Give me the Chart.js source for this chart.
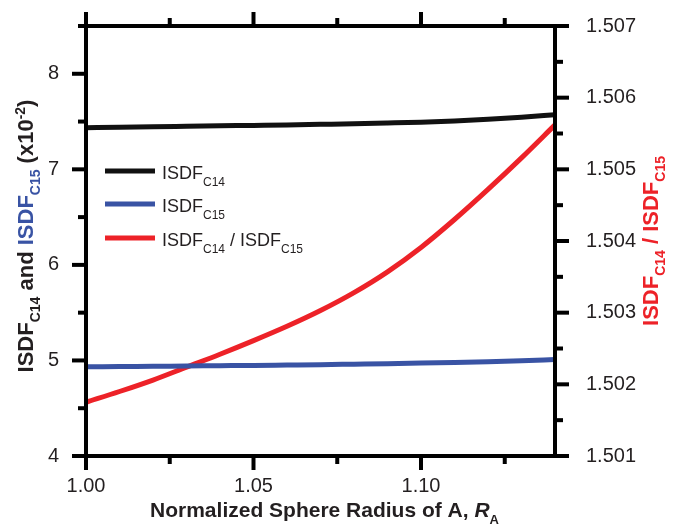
<!DOCTYPE html>
<html>
<head>
<meta charset="utf-8">
<script src="https://cdn.jsdelivr.net/npm/chart.js@4.4.1/dist/chart.umd.min.js"></script>
<style>
  html, body { margin: 0; padding: 0; background: #fff; }
  #wrap { width: 682px; height: 526px; }
</style>
</head>
<body>
<div id="wrap"><canvas id="chart" width="682" height="526"></canvas></div>
<script>
// Data
const radius = [1.00, 1.01, 1.02, 1.03, 1.04, 1.05, 1.06, 1.07, 1.08, 1.09, 1.10, 1.11, 1.12, 1.13, 1.14];
const isdfC14 = [7.436, 7.441, 7.445, 7.450, 7.455, 7.460, 7.465, 7.471, 7.477, 7.485, 7.494, 7.507, 7.524, 7.546, 7.572];
const isdfC15 = [4.933, 4.936, 4.939, 4.942, 4.945, 4.948, 4.952, 4.956, 4.961, 4.966, 4.972, 4.979, 4.987, 4.997, 5.010];
const ratio = [1.50175, 1.50190, 1.50206, 1.50224, 1.50242, 1.50261, 1.50281, 1.50303, 1.50328, 1.50357, 1.50391, 1.50430, 1.50472, 1.50516, 1.50562];

// Ticks
const xMajor = [1.00, 1.05, 1.10];
const xMinor = [1.025, 1.075, 1.125];
const yMajor = [4, 5, 6, 7, 8];
const yMinor = [4.5, 5.5, 6.5, 7.5, 8.5];
const y2Major = [1.501, 1.502, 1.503, 1.504, 1.505, 1.506, 1.507];
const y2Minor = [1.5015, 1.5025, 1.5035, 1.5045, 1.5055, 1.5065];

const BLACK = "#111111";
const BLUE = "#3953a4";
const RED = "#ed2228";
const TXT = "#231f20";
const FONT = "'Liberation Sans', Arial, Helvetica, sans-serif";

const pts = (arr) => radius.map((x, i) => ({ x, y: arr[i] }));

function setTicks(major, minor) {
  return (scale) => {
    scale.ticks = major.concat(minor).sort((a, b) => a - b).map(v => ({ value: v, major: major.includes(v) }));
  };
}

// fixed box sizes, no extra label padding
function fitBox(w, h) {
  return (s) => {
    if (w != null) s.width = w;
    if (h != null) s.height = h;
    s.paddingTop = 0; s.paddingBottom = 0; s.paddingLeft = 0; s.paddingRight = 0;
  };
}

// Draws a run of text pieces (for subscripts / mixed colours)
function drawRich(ctx, parts, x, y, align) {
  let total = 0;
  parts.forEach(p => { ctx.font = p.font; p.w = ctx.measureText(p.t).width; total += p.w; });
  let cx = align === "center" ? x - total / 2 : x;
  ctx.textAlign = "left";
  ctx.textBaseline = "alphabetic";
  parts.forEach(p => {
    ctx.font = p.font;
    ctx.fillStyle = p.color || TXT;
    ctx.fillText(p.t, cx, y + (p.dy || 0));
    cx += p.w;
  });
}

const frame = {
  id: "frame",
  afterDatasetsDraw(chart) {
    const { ctx, chartArea: a, scales } = chart;
    ctx.save();
    ctx.strokeStyle = "#000";
    ctx.lineWidth = 4;
    ctx.lineCap = "square";
    ctx.strokeRect(a.left, a.top, a.right - a.left, a.bottom - a.top);
    ctx.lineCap = "butt";
    const tick = (x1, y1, x2, y2) => { ctx.beginPath(); ctx.moveTo(x1, y1); ctx.lineTo(x2, y2); ctx.stroke(); };
    scales.x.ticks.forEach(t => {
      const px = scales.x.getPixelForValue(t.value);
      const len = t.major ? 14 : 8;
      tick(px, a.bottom, px, a.bottom + len);
      tick(px, a.top, px, a.top - len);
    });
    scales.y.ticks.forEach(t => {
      const py = scales.y.getPixelForValue(t.value);
      tick(a.left, py, a.left - (t.major ? 14 : 8), py);
    });
    scales.y2.ticks.forEach(t => {
      const py = scales.y2.getPixelForValue(t.value);
      tick(a.right, py, a.right + (t.major ? 14 : 8), py);
    });
    ctx.restore();
  },
  afterDraw(chart) {
    const { ctx, chartArea: a } = chart;
    const b22 = "bold 22px " + FONT, b14 = "bold 14px " + FONT;
    ctx.save();

    // x title
    drawRich(ctx, [
      { t: "Normalized Sphere Radius of A, ", font: "bold 21px " + FONT },
      { t: "R", font: "italic bold 21px " + FONT },
      { t: "A", font: "bold 13px " + FONT, dy: 7 },
    ], (a.left + a.right) / 2 + 4, 517, "center");

    // left title
    ctx.save();
    ctx.translate(33, 236);
    ctx.rotate(-Math.PI / 2);
    drawRich(ctx, [
      { t: "ISDF", font: b22, color: TXT },
      { t: "C14", font: b14, color: TXT, dy: 7 },
      { t: " and ", font: b22, color: TXT },
      { t: "ISDF", font: b22, color: BLUE },
      { t: "C15", font: b14, color: BLUE, dy: 7 },
      { t: " (x10", font: b22, color: TXT },
      { t: "-2", font: b14, color: TXT, dy: -8 },
      { t: ")", font: b22, color: TXT },
    ], 0, 0, "center");
    ctx.restore();

    // right title
    ctx.save();
    ctx.translate(658, 241);
    ctx.rotate(-Math.PI / 2);
    drawRich(ctx, [
      { t: "ISDF", font: b22, color: RED },
      { t: "C14", font: b14, color: RED, dy: 7 },
      { t: " / ISDF", font: b22, color: RED },
      { t: "C15", font: b14, color: RED, dy: 7 },
    ], 0, 0, "center");
    ctx.restore();

    // legend
    const r18 = "18px " + FONT, r12 = "12px " + FONT;
    const rows = [
      { color: BLACK, parts: [{ t: "ISDF", font: r18 }, { t: "C14", font: r12, dy: 7 }] },
      { color: BLUE, parts: [{ t: "ISDF", font: r18 }, { t: "C15", font: r12, dy: 7 }] },
      { color: RED, parts: [{ t: "ISDF", font: r18 }, { t: "C14", font: r12, dy: 7 }, { t: " / ISDF", font: r18 }, { t: "C15", font: r12, dy: 7 }] },
    ];
    const rowY = [171, 204, 238];
    rows.forEach((r, i) => {
      ctx.strokeStyle = r.color;
      ctx.lineWidth = 5;
      ctx.beginPath();
      ctx.moveTo(105, rowY[i]);
      ctx.lineTo(155, rowY[i]);
      ctx.stroke();
      drawRich(ctx, r.parts, 162, rowY[i] + 8, "left");
    });
    ctx.restore();
  }
};

new Chart(document.getElementById("chart"), {
  type: "line",
  data: {
    datasets: [
      { label: "ISDF C14", data: pts(isdfC14), yAxisID: "y", borderColor: BLACK, borderWidth: 5, pointRadius: 0, cubicInterpolationMode: "monotone" },
      { label: "ISDF C15", data: pts(isdfC15), yAxisID: "y", borderColor: BLUE, borderWidth: 5, pointRadius: 0, cubicInterpolationMode: "monotone" },
      { label: "ISDF C14 / ISDF C15", data: pts(ratio), yAxisID: "y2", borderColor: RED, borderWidth: 5, pointRadius: 0, cubicInterpolationMode: "monotone" },
    ],
  },
  options: {
    responsive: false,
    animation: false,
    events: [],
    layout: { padding: { top: 26, left: 0, right: 0, bottom: 0 } },
    plugins: { legend: { display: false }, tooltip: { enabled: false } },
    scales: {
      x: {
        type: "linear", min: 1.0, max: 1.14,
        afterBuildTicks: setTicks(xMajor, xMinor),
        afterFit: fitBox(null, 70),
        grid: { display: false }, border: { display: false },
        ticks: {
          padding: 10, color: TXT, font: { family: FONT, size: 20 }, maxRotation: 0, autoSkip: false,
          callback: (v) => xMajor.includes(v) ? v.toFixed(2) : "",
        },
      },
      y: {
        type: "linear", position: "left", min: 4, max: 8.5,
        afterBuildTicks: setTicks(yMajor, yMinor),
        afterFit: fitBox(86, null),
        grid: { display: false }, border: { display: false },
        ticks: {
          padding: 19, color: TXT, font: { family: FONT, size: 20 }, autoSkip: false,
          callback: (v) => yMajor.includes(v) ? String(v) : "",
        },
      },
      y2: {
        type: "linear", position: "right", min: 1.501, max: 1.507,
        afterBuildTicks: setTicks(y2Major, y2Minor),
        afterFit: fitBox(127, null),
        grid: { display: false }, border: { display: false },
        ticks: {
          padding: 23, color: TXT, font: { family: FONT, size: 20 }, autoSkip: false,
          callback: (v) => y2Major.includes(v) ? v.toFixed(3) : "",
        },
      },
    },
  },
  plugins: [frame],
});
</script>
</body>
</html>
